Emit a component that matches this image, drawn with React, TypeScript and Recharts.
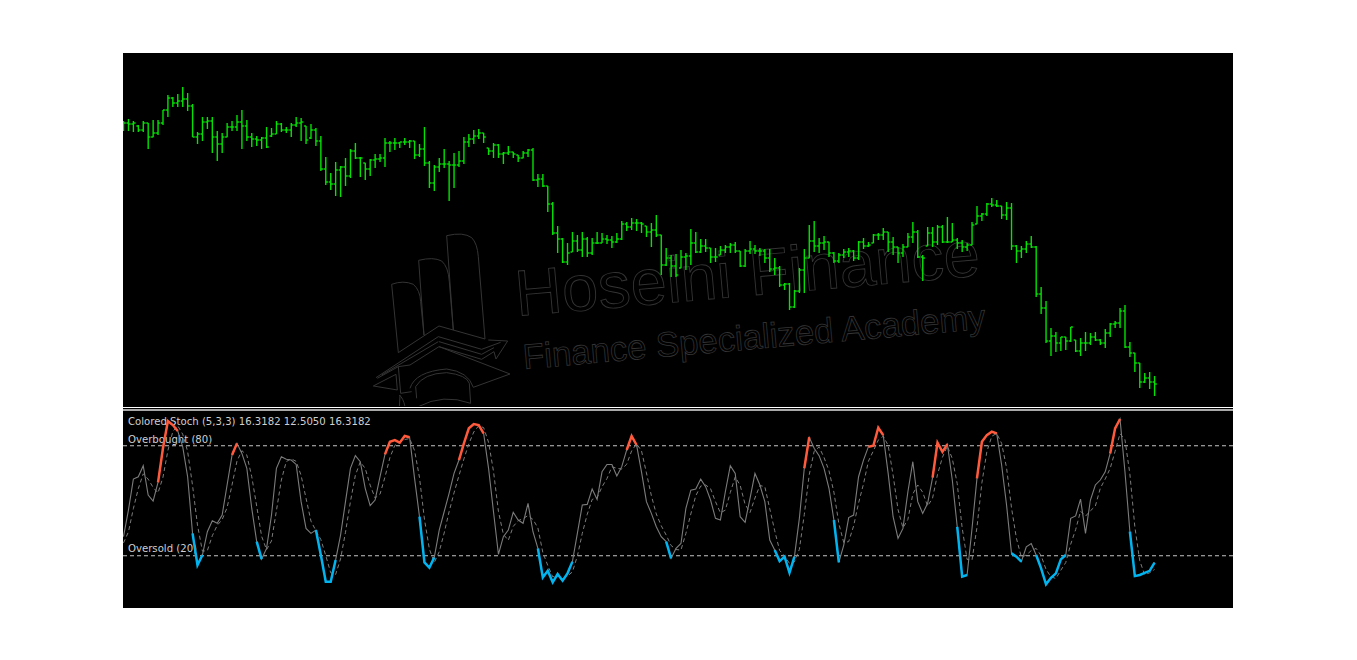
import React from "react";
import { ComposedChart, Bar, Line, XAxis, YAxis, ReferenceLine } from "recharts";

const highs = [
  285,287,285,281,285,283,286,286,296,311,
  309,312,319,313,302,274,289,289,289,275,
  273,283,285,291,296,286,273,270,269,279,
  278,285,283,279,283,289,288,280,282,278,
  270,249,233,244,240,248,257,263,249,243,
  247,252,252,268,265,268,264,268,266,265,
  262,279,245,241,248,257,245,253,255,269,
  272,276,277,273,258,263,262,254,260,254,
  251,255,257,258,232,232,220,204,180,168,
  163,174,171,174,169,168,174,173,171,170,
  173,185,184,188,187,184,180,183,191,171,
  158,151,152,156,153,177,174,167,167,158,
  158,160,161,163,164,155,157,165,161,158,
  157,157,148,140,123,123,116,138,157,181,
  185,168,170,164,154,153,157,158,156,165,
  168,164,172,173,178,174,169,159,162,173,
  184,176,151,179,179,181,181,189,183,168,
  166,163,184,200,193,203,208,206,200,204,
  203,161,160,165,170,160,119,105,78,74,
  69,69,79,66,68,74,73,74,67,77,
  83,85,98,101,64,53,43,33,34,30,
];
const lows = [
  275,275,274,274,274,257,269,271,281,289,
  299,299,299,295,269,262,265,277,253,245,
  253,269,275,275,257,265,259,260,257,258,
  269,272,274,273,269,279,265,262,267,260,
  235,221,216,210,209,220,228,247,229,226,
  230,238,244,239,254,256,258,261,258,247,
  249,240,218,215,234,238,205,218,239,242,
  259,262,267,263,251,248,248,242,251,248,
  244,248,249,225,219,219,194,171,153,143,
  141,154,154,149,149,151,162,163,162,158,
  163,166,175,176,175,173,169,159,169,131,
  140,129,129,138,136,141,153,153,154,143,
  144,151,153,153,153,139,139,152,152,150,
  143,134,131,119,116,96,98,113,113,148,
  154,153,156,149,143,143,148,149,145,146,
  157,159,163,166,166,154,151,143,149,159,
  163,148,125,160,159,161,163,163,164,157,
  154,155,161,182,185,190,199,199,187,186,
  156,143,148,153,158,109,92,63,50,54,
  55,56,64,54,50,55,61,65,61,58,
  69,78,78,58,49,34,18,23,17,10,
];
const closes = [
  283,282,283,276,283,269,273,283,296,308,
  303,305,307,300,269,272,284,285,269,262,
  269,279,279,284,280,269,267,266,268,259,
  272,282,276,276,281,283,284,266,276,265,
  237,224,222,236,239,230,255,248,248,237,
  246,247,248,263,263,263,264,264,265,251,
  257,243,223,239,242,242,241,241,245,264,
  267,270,273,269,255,261,252,253,254,252,
  248,253,256,226,227,220,202,173,167,144,
  153,165,156,167,153,163,163,167,166,164,
  167,182,179,183,183,182,174,176,171,141,
  148,140,131,149,150,163,154,160,158,149,
  149,156,159,161,155,140,155,157,155,155,
  148,137,138,121,122,99,115,136,148,165,
  160,163,164,153,145,151,154,155,148,164,
  160,161,171,171,174,164,159,153,159,169,
  174,149,148,173,164,179,164,164,166,163,
  159,161,181,190,192,202,201,200,191,198,
  160,155,157,162,159,112,98,65,70,63,
  69,65,79,55,63,63,69,66,63,73,
  82,83,95,59,53,43,24,28,24,22,
];
const opens = [
  283,283,282,280,276,283,269,273,283,296,
  308,303,305,307,300,269,272,284,285,269,
  262,269,279,279,284,280,269,267,266,268,
  270,272,282,276,276,281,283,280,268,276,
  265,237,224,222,236,239,230,255,248,243,
  237,246,247,248,263,263,263,264,264,265,
  251,257,243,223,239,242,242,241,241,245,
  264,267,270,273,258,255,261,252,253,254,
  251,248,253,256,226,227,220,202,173,167,
  144,154,165,156,167,153,163,163,167,166,
  164,167,182,179,183,183,180,174,176,171,
  141,148,140,138,149,150,163,154,160,158,
  149,151,156,159,161,155,140,155,157,155,
  155,148,137,138,121,122,99,115,136,148,
  165,160,163,164,153,145,151,154,155,148,
  164,160,163,171,171,174,164,159,153,159,
  169,174,149,160,173,164,179,164,164,166,
  163,159,161,182,190,192,202,201,200,191,
  198,160,155,157,162,159,112,98,65,70,
  63,69,65,66,55,63,63,69,66,63,
  73,82,83,95,59,53,43,24,28,24,
];

const stochMain = [
  30.4,44.9,61.8,63.1,69.1,53.1,49.8,60.0,78.6,93.5,
  91.3,88.0,79.5,63.1,32.2,14.9,20.4,33.1,39.1,37.7,
  42.2,58.6,74.9,81.3,75.8,67.7,45.8,27.7,18.2,24.0,
  42.2,67.7,74.0,72.6,72.2,69.8,49.5,34.9,32.2,34.0,
  20.4,5.8,5.8,17.7,31.3,49.5,67.7,74.6,71.3,56.8,
  47.3,50.4,63.1,75.3,82.2,83.1,81.7,85.3,84.6,62.2,
  41.3,16.4,13.5,19.1,34.0,44.0,54.0,64.9,72.2,81.3,
  89.5,91.8,91.3,86.7,67.7,44.0,20.8,30.4,34.0,43.7,
  39.5,37.7,48.6,33.1,24.0,8.2,11.8,5.5,10.0,6.4,
  10.4,16.8,32.2,47.7,48.0,56.4,50.7,65.8,69.8,69.8,
  63.5,68.6,77.7,85.3,80.4,65.8,49.5,43.1,35.8,30.4,
  27.7,18.6,24.0,26.7,45.8,55.8,56.4,61.8,57.7,50.4,
  40.4,39.5,54.9,69.1,64.9,41.3,38.2,51.3,64.9,58.6,
  49.5,28.6,23.1,17.1,19.5,10.7,19.5,40.4,67.7,84.6,
  78.6,74.6,67.7,56.8,39.5,16.4,25.8,40.8,42.2,63.1,
  72.2,79.5,80.0,89.8,85.8,64.9,41.3,29.5,34.9,54.9,
  71.3,49.5,43.1,48.6,62.6,81.7,76.7,80.9,61.3,35.8,
  8.6,9.5,34.9,62.2,82.2,85.8,87.7,86.7,69.5,47.7,
  21.3,19.5,16.8,24.9,26.7,20.4,13.1,4.4,8.0,10.4,
  18.0,20.4,40.4,41.7,50.9,32.2,50.4,58.6,61.3,65.8,
  75.8,89.5,94.6,65.8,33.1,8.9,9.5,10.7,11.8,16.3,
];
const stochSignal = [
  27,33,45.7,56.6,64.7,61.8,57.3,54.3,62.8,77.4,
  87.8,90.9,86.3,76.9,58.3,36.7,22.5,22.8,30.9,36.6,
  39.7,46.2,58.6,71.6,77.3,74.9,63.1,47.1,30.6,23.3,
  28.1,44.6,61.3,71.4,72.9,71.5,63.8,51.4,38.9,33.7,
  28.9,20.1,10.7,9.8,18.3,32.8,49.5,63.9,71.2,67.6,
  58.5,51.5,53.6,62.9,73.5,80.2,82.0,83.4,83.9,77.4,
  62.7,40.0,23.7,16.3,22.2,32.4,44.0,54.3,63.7,72.8,
  81.0,87.5,90.9,89.9,81.9,66.1,44.2,31.7,28.4,36.0,
  39.1,40.3,41.9,39.8,35.2,21.8,14.7,8.5,9.1,7.3,
  8.9,11.2,19.8,32.2,42.6,50.7,51.7,57.6,62.1,68.5,
  67.7,67.3,69.9,77.2,81.1,77.2,65.2,52.8,42.8,36.4,
  31.3,25.6,23.4,23.1,32.2,42.8,52.7,58.0,58.6,56.6,
  49.5,43.4,44.9,54.5,63.0,58.4,48.1,43.6,51.5,58.3,
  57.7,45.6,33.7,22.9,19.9,15.8,16.6,23.5,42.5,64.2,
  77.0,79.3,73.6,66.4,54.7,37.6,27.2,27.7,36.3,48.7,
  59.2,71.6,77.2,83.1,85.2,80.2,64.0,45.2,35.2,39.8,
  53.7,58.6,54.6,47.1,51.4,64.3,73.7,79.8,73.0,59.3,
  35.2,18.0,17.7,35.5,59.8,76.7,85.2,86.7,81.3,68.0,
  46.2,29.5,19.2,20.4,22.8,24.0,20.1,12.6,8.5,7.6,
  12.1,16.3,26.3,34.2,44.3,41.6,44.5,47.1,56.8,61.9,
  67.6,77.0,86.6,83.3,64.5,35.9,17.2,9.7,10.7,12.5,
];
const overboughtRanges = [[7,11],[22,23],[53,58],[68,73],[102,104],[138,139],[151,154],[164,167],[173,177],[200,202]];
const oversoldRanges = [[14,16],[27,28],[39,43],[60,63],[84,91],[110,111],[132,136],[144,145],[169,171],[180,182],[185,191],[204,209]];

const inRanges = (i: number, ranges: number[][]) => ranges.some(([a, b]) => i >= a && i <= b);

const priceRows = highs.map((h, i) => ({ i, range: [lows[i], h], open: opens[i], close: closes[i] }));
const stochRows = stochMain.map((m, i) => ({
  i,
  main: m,
  signal: stochSignal[i],
  hot: inRanges(i, overboughtRanges) ? m : null,
  cold: inRanges(i, oversoldRanges) ? m : null,
}));

const X_DOMAIN: [number, number] = [-0.1, 224.9];
const GREEN = "#00e400";
const GRAY = "#7c7c7c";
const TEXT = "#cfcfcf";
const FONT = "'DejaVu Sans', sans-serif";

const OhlcShape = (props: any) => {
  const { x, y, width, height, payload } = props;
  const cx = x + width / 2;
  const [lo, hi] = payload.range;
  const span = hi - lo || 1;
  const yOf = (v: number) => y + ((hi - v) / span) * height;
  return (
    <g stroke={GREEN} strokeWidth={1.4} fill="none">
      <line x1={cx} x2={cx} y1={y} y2={y + height} />
      <line x1={cx - 2} x2={cx} y1={yOf(payload.open)} y2={yOf(payload.open)} />
      <line x1={cx} x2={cx + 2.2} y1={yOf(payload.close)} y2={yOf(payload.close)} />
    </g>
  );
};

const Watermark = () => (
  <svg width={1110} height={353} style={{ position: "absolute", left: 0, top: 0 }}>
    <g transform="translate(-123,-53)" fill="none" stroke="#343434">
      <g transform="translate(370,225) scale(0.3333)" strokeWidth={3}>
        <path d="M85,383 L65,178 Q100,165 130,178 Q150,195 152,230 L162,330" />
        <path d="M146,106 Q190,95 215,108 Q235,125 238,170 L250,315 M162,330 L146,106" />
        <path d="M230,32 Q280,20 305,38 Q322,55 325,95 L345,342 M250,315 L230,32" />
        <path d="M85,383 L207,303 L345,342" />
        <path d="M18,458 L205,335 L335,373 L392,352 M355,345 L413,348 L378,402 L372,380 L335,403 L207,365 L120,420 L85,425 L22,460" />
        <path d="M207,350 L335,388 L372,368 M35,450 L205,350" />
        <path d="M207,365 L420,447 L310,487 M120,490 Q135,440 230,432 Q295,440 310,487" />
        <path d="M140,520 L137,485 Q160,445 230,443 Q290,450 298,475 L302,535 Q220,505 145,545" />
        <path d="M10,483 L78,448 L82,495 Z M85,425 L92,505 L125,500 M88,510 Q100,520 105,545 M90,510 L88,550" />
      </g>
      <text x={517} y={316} transform="rotate(-5 517 316)" fontFamily="'Liberation Sans', sans-serif" fontSize={65} strokeWidth={0.9}>Hoseini Finance</text>
      <text x={524} y={369} transform="rotate(-5 524 369)" fontFamily="'Liberation Sans', sans-serif" fontSize={34.8} strokeWidth={0.8}>Finance Specialized Academy</text>
    </g>
  </svg>
);

export default function App() {
  return (
    <div style={{ position: "fixed", left: 0, top: 0, width: 1357, height: 660, background: "#fff", overflow: "hidden" }}>
      <div style={{ position: "absolute", left: 123, top: 53, width: 1110, height: 555, background: "#000" }}>
        <div style={{ position: "absolute", left: 0, top: 0, width: 1110, height: 353, overflow: "hidden" }}>
          <Watermark />
          <div style={{ position: "absolute", left: 0, top: 0 }}>
            <ComposedChart width={1110} height={353} data={priceRows} margin={{ top: 0, right: 0, bottom: 0, left: 0 }}>
              <XAxis dataKey="i" type="number" domain={X_DOMAIN} hide allowDataOverflow />
              <YAxis type="number" domain={[0, 353]} hide />
              <Bar dataKey="range" shape={OhlcShape} isAnimationActive={false} barSize={1} />
            </ComposedChart>
          </div>
        </div>
        <div style={{ position: "absolute", left: 0, top: 354, width: 1110, height: 1, background: "#fff" }} />
        <div style={{ position: "absolute", left: 0, top: 356, width: 1110, height: 2, background: "#a8a8a8" }} />
        <div style={{ position: "absolute", left: 0, top: 357, width: 1110, height: 198 }}>
          <svg width={1110} height={198} style={{ position: "absolute", left: 0, top: 0 }}>
            <g fontFamily={FONT} fontSize={10.15} fill={TEXT}>
              <text x={5} y={15}>Colored Stoch (5,3,3) 16.3182 12.5050 16.3182</text>
              <text x={5} y={33}>Overbought (80)</text>
              <text x={5} y={142}>Oversold (20)</text>
            </g>
          </svg>
          <div style={{ position: "absolute", left: 0, top: 0 }}>
            <ComposedChart width={1110} height={198} data={stochRows} margin={{ top: 0, right: 0, bottom: 0, left: 0 }}>
              <XAxis dataKey="i" type="number" domain={X_DOMAIN} hide allowDataOverflow />
              <YAxis type="number" domain={[-8.5, 99.5]} hide />
              <ReferenceLine y={80} stroke="#c4c4c4" strokeDasharray="4 3" />
              <ReferenceLine y={20} stroke="#c4c4c4" strokeDasharray="4 3" />
              <Line dataKey="signal" stroke={GRAY} strokeWidth={1} strokeDasharray="4 3" dot={false} isAnimationActive={false} />
              <Line dataKey="main" stroke={GRAY} strokeWidth={1.1} dot={false} isAnimationActive={false} />
              <Line dataKey="hot" stroke="#ff5a3c" strokeWidth={2.5} dot={false} isAnimationActive={false} connectNulls={false} />
              <Line dataKey="cold" stroke="#00b4f0" strokeWidth={2.5} dot={false} isAnimationActive={false} connectNulls={false} />
            </ComposedChart>
          </div>
        </div>
      </div>
    </div>
  );
}
